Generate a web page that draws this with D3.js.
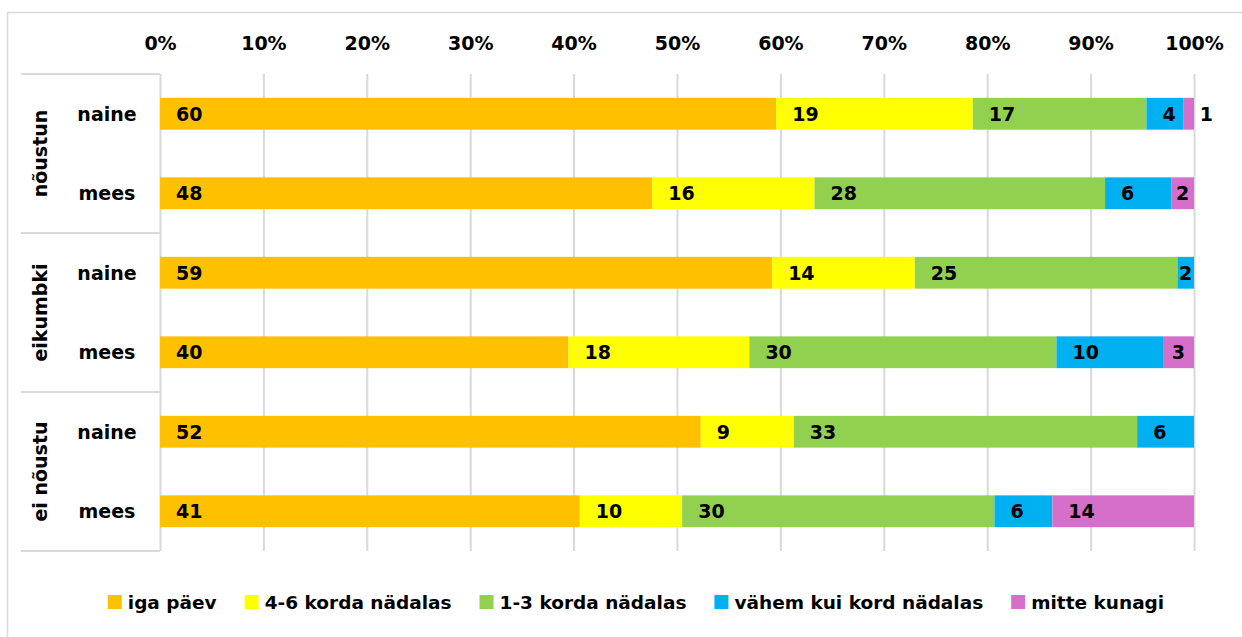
<!DOCTYPE html>
<html>
<head>
<meta charset="utf-8">
<script src="https://cdn.jsdelivr.net/npm/d3@7"></script>
<style>
  body { margin: 0; background: #fff; }
  svg text { font-family: "DejaVu Sans", sans-serif; font-weight: bold; fill: #000; }
</style>
</head>
<body>
<div class="container"></div>
<script>
const WIDTH = 1242;
const HEIGHT = 637;

// data
const groups = ["nõustun", "eikumbki", "ei nõustu"];
const genders = ["naine", "mees"];
const series = ["iga päev", "4-6 korda nädalas", "1-3 korda nädalas", "vähem kui kord nädalas", "mitte kunagi"];
const colors = ["#FFC000", "#FFFF00", "#92D050", "#00B0F0", "#D56FC9"];
// one value per row: nõustun naine, nõustun mees, eikumbki naine, eikumbki mees, ei nõustu naine, ei nõustu mees
const igaPaev = [59.6, 47.6, 59.2, 39.5, 52.3, 40.6];
const korda46 = [19.0, 15.7, 13.8, 17.5, 9.0, 9.9];
const korda13 = [16.8, 28.1, 25.4, 29.7, 33.2, 30.2];
const vahem   = [3.6, 6.4, 1.6, 10.3, 5.5, 5.6];
const mitte   = [1.0, 2.2, 0, 3.0, 0, 13.7];
const tickValues = [0, 0.1, 0.2, 0.3, 0.4, 0.5, 0.6, 0.7, 0.8, 0.9, 1];

const PLOT_LEFT = 160, PLOT_RIGHT = 1194, PLOT_TOP = 74, PLOT_BOTTOM = 551;
const GRID = "#d9d9d9";

var rows = [];
groups.forEach(function(g, gi){
	genders.forEach(function(s, si){
		var i = gi * genders.length + si;
		var r = {id: g + "|" + s, group: g, gender: s};
		[igaPaev, korda46, korda13, vahem, mitte].forEach(function(arr, k){ r[series[k]] = arr[i]; });
		rows.push(r);
	});
});

var svg = d3.select('.container').append('svg')
	.attr('width', WIDTH)
	.attr('height', HEIGHT);

// chart border
svg.append('rect')
	.attr('x', 7.5).attr('y', 12.5)
	.attr('width', 1400).attr('height', 800)
	.attr('fill', 'none').attr('stroke', GRID).attr('stroke-width', 1.5);

var x = d3.scaleLinear().domain([0, 1]).range([PLOT_LEFT, PLOT_RIGHT]);
var y = d3.scaleBand()
	.domain(rows.map(function(d){ return d.id; }))
	.range([PLOT_TOP, PLOT_BOTTOM])
	.paddingInner(0.6)
	.paddingOuter(0.3);

// gridlines
svg.append('g')
	.attr('transform', 'translate(0,' + PLOT_BOTTOM + ')')
	.call(d3.axisBottom(x).tickValues(tickValues).tickSize(-(PLOT_BOTTOM - PLOT_TOP)).tickFormat(''))
	.call(function(g){
		g.select('.domain').remove();
		g.selectAll('.tick line').attr('stroke', GRID).attr('stroke-width', 2);
	});

// top axis labels
svg.append('g')
	.attr('transform', 'translate(0,43)')
	.call(d3.axisTop(x).tickValues(tickValues).tickSize(0).tickFormat(d3.format('.0%')))
	.call(function(g){
		g.select('.domain').remove();
		g.selectAll('.tick text')
			.attr('y', 0).attr('dy', '0.36em')
			.style('font-size', '19px');
	});

// category axis separators
var sepY = [PLOT_TOP];
groups.forEach(function(g){
	var last = y(g + "|" + genders[genders.length - 1]);
	sepY.push(last + y.bandwidth() + y.step() * 0.3);
});
svg.append('g').selectAll('line')
	.data(sepY)
	.join('line')
	.attr('x1', 21).attr('x2', PLOT_LEFT)
	.attr('y1', function(d){ return d; })
	.attr('y2', function(d){ return d; })
	.attr('stroke', GRID).attr('stroke-width', 2);

// gender labels
svg.append('g').selectAll('text')
	.data(rows)
	.join('text')
	.attr('x', 107)
	.attr('y', function(d){ return y(d.id) + y.bandwidth() / 2; })
	.attr('dy', '0.36em')
	.attr('text-anchor', 'middle')
	.style('font-size', '19px')
	.text(function(d){ return d.gender; });

// group labels
svg.append('g').selectAll('text')
	.data(groups)
	.join('text')
	.attr('transform', function(g, i){
		var cy = (sepY[i] + sepY[i + 1]) / 2;
		return 'translate(40,' + cy + ') rotate(-90)';
	})
	.attr('dy', '0.36em')
	.attr('text-anchor', 'middle')
	.style('font-size', '19px')
	.text(function(d){ return d; });

// stacked bars
var stacked = d3.stack().keys(series).offset(d3.stackOffsetExpand)(rows);

var layer = svg.append('g').selectAll('g')
	.data(stacked)
	.join('g')
	.attr('fill', function(d, i){ return colors[i]; });

layer.selectAll('rect')
	.data(function(d){ return d; })
	.join('rect')
	.attr('x', function(d){ return x(d[0]); })
	.attr('y', function(d){ return y(d.data.id); })
	.attr('width', function(d){ return x(d[1]) - x(d[0]); })
	.attr('height', y.bandwidth());

// data labels
var labels = svg.append('g');
stacked.forEach(function(s){
	s.forEach(function(d){
		var v = d.data[s.key];
		if (!v) return;
		var t = labels.append('text')
			.attr('y', y(d.data.id) + y.bandwidth() / 2)
			.attr('dy', '0.36em')
			.style('font-size', '19px')
			.text(Math.round(v));
		var tw = t.node().getComputedTextLength();
		var x0 = x(d[0]), x1 = x(d[1]), w = x1 - x0;
		var tx = x0 + 16;
		if (tx + tw > x1 - 4 && w >= tw) tx = x0 + (w - tw) / 2;
		t.attr('x', tx);
	});
});

// legend
var legend = svg.append('g').attr('class', 'legend');
var items = legend.selectAll('g')
	.data(series)
	.join('g');
items.append('rect')
	.attr('width', 14).attr('height', 14)
	.attr('y', 595)
	.attr('fill', function(d, i){ return colors[i]; });
items.append('text')
	.attr('x', 20)
	.attr('y', 602)
	.attr('dy', '0.36em')
	.style('font-size', '18.5px')
	.text(function(d){ return d; });

var offsets = [], cur = 0;
items.each(function(){
	offsets.push(cur);
	cur += 20 + d3.select(this).select('text').node().getComputedTextLength() + 28;
});
var total = cur - 28;
var startX = 636 - total / 2;
items.attr('transform', function(d, i){ return 'translate(' + (startX + offsets[i]) + ',0)'; });
</script>
</body>
</html>
